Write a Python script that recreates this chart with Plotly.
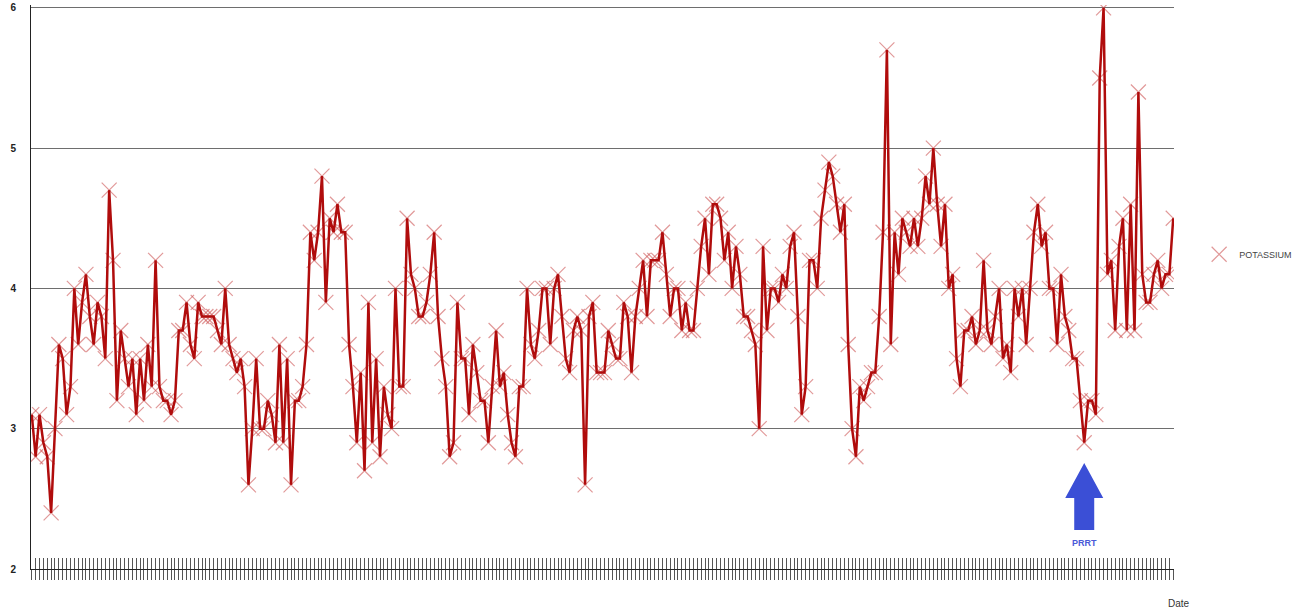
import plotly.graph_objects as go

# Potassium readings (mmol/L), in sampling order
potassium_1 = [3.1, 2.8, 3.1, 2.9, 2.8, 2.4, 3.0, 3.6, 3.5, 3.1, 3.3, 4.0, 3.6, 3.9, 4.1, 3.8, 3.6,
               3.9, 3.8, 3.5, 4.7, 4.2, 3.2, 3.7, 3.5, 3.3, 3.5, 3.1, 3.5, 3.2, 3.6, 3.3, 4.2]
potassium_2 = [3.3, 3.2, 3.2, 3.1, 3.2, 3.7, 3.7, 3.9, 3.6, 3.5, 3.9, 3.8, 3.8, 3.8, 3.8, 3.7, 3.6,
               4.0, 3.6, 3.5, 3.4, 3.5, 3.3, 2.6, 3.0, 3.5, 3.0, 3.0, 3.2, 3.1, 2.9, 3.6, 2.9, 3.5]
potassium_3 = [2.6, 3.2, 3.2, 3.3, 3.6, 4.4, 4.2, 4.4, 4.8, 3.9, 4.5, 4.4, 4.6, 4.4, 4.4, 3.6, 3.3,
               2.9, 3.4, 2.7, 3.9, 2.9, 3.5, 2.8, 3.3, 3.1, 3.0, 4.0, 3.3, 3.3, 4.5]
potassium_4 = [4.1, 4.0, 3.8, 3.8, 3.9, 4.1, 4.4, 3.8, 3.5, 3.3, 2.8, 2.9, 3.9, 3.5, 3.5, 3.1, 3.6,
               3.4, 3.2, 3.2, 2.9, 3.3, 3.7, 3.3, 3.4, 3.1, 2.9, 2.8, 3.3, 3.3, 4.0]
potassium_5 = [3.6, 3.5, 3.7, 4.0, 4.0, 3.6, 4.0, 4.1, 3.8, 3.5, 3.4, 3.7, 3.8, 3.7, 2.6, 3.8, 3.9,
               3.4, 3.4, 3.4, 3.7, 3.6, 3.5, 3.5, 3.9, 3.8, 3.4, 3.8, 4.0, 4.2, 3.8, 4.2]
potassium_6 = [4.2, 4.2, 4.4, 4.1, 3.8, 4.0, 4.0, 3.7, 3.9, 3.7, 3.7, 4.0, 4.3, 4.5, 4.1, 4.6, 4.6,
               4.5, 4.2, 4.4, 4.0, 4.3, 4.1, 3.8, 3.8, 3.7, 3.6, 3.0, 4.3, 3.7, 4.0]
potassium_7 = [4.0, 3.9, 4.1, 4.0, 4.3, 4.4, 3.8, 3.1, 3.3, 4.2, 4.2, 4.0, 4.5, 4.7, 4.9, 4.8, 4.6,
               4.4, 4.6, 3.6, 3.0, 2.8, 3.3, 3.2, 3.3, 3.4, 3.4, 3.8, 4.4, 5.7, 3.6, 4.4]
potassium_8 = [4.1, 4.5, 4.4, 4.3, 4.5, 4.3, 4.5, 4.8, 4.6, 5.0, 4.6, 4.3, 4.6, 4.0, 4.1, 3.5, 3.3,
               3.7, 3.7, 3.8, 3.6, 3.7, 4.2, 3.7, 3.6, 3.8, 4.0, 3.5, 3.6, 3.4, 4.0, 3.8, 4.0]
potassium_9 = [3.6, 4.0, 4.4, 4.6, 4.3, 4.4, 4.0, 4.0, 3.6, 4.1, 3.8, 3.7, 3.5, 3.5, 3.2, 2.9, 3.2,
               3.2, 3.1, 5.5, 6.0, 4.1, 4.2, 3.7, 4.3, 4.5, 3.7, 4.6, 3.7, 5.4, 4.1, 3.9, 3.9, 4.1,
               4.2, 4.0, 4.1, 4.1, 4.5]

potassium = (potassium_1 + potassium_2 + potassium_3 + potassium_4 + potassium_5 +
             potassium_6 + potassium_7 + potassium_8 + potassium_9)
sample_index = list(range(len(potassium)))
prrt_index = 272          # sample at which PRRT was given
y_ticks = [2, 3, 4, 5, 6]
series_name = "POTASSIUM"

n = len(potassium)
xr = [-0.2, n - 1 + 0.2]
yr = [2, 6.02]

fig = go.Figure()
# markers (drawn underneath)
fig.add_trace(go.Scatter(
    x=sample_index, y=potassium, mode="markers", name=series_name,
    marker=dict(symbol="x-thin", size=15, color="rgba(205,85,85,0.6)",
                line=dict(width=1.2, color="rgba(205,85,85,0.6)")),
    hoverinfo="skip"))
# line on top
fig.add_trace(go.Scatter(
    x=sample_index, y=potassium, mode="lines", showlegend=False,
    line=dict(color="#B00C0C", width=2.5)))
# invisible trace to host overlaid axis (inside ticks)
fig.add_trace(go.Scatter(x=[sample_index[0]], y=[2], xaxis="x2", mode="markers",
                         marker=dict(opacity=0), showlegend=False, hoverinfo="skip"))

# PRRT arrow
fig.add_shape(type="path", xref="x", yref="y", xsizemode="pixel", ysizemode="pixel",
              xanchor=prrt_index, yanchor=2,
              path="M -10,39 L -10,71 L -19,71 L 0,106 L 19,71 L 10,71 L 10,39 Z",
              fillcolor="#3B4FD6", line=dict(width=0))
fig.add_annotation(x=prrt_index, y=2.185, text="<b>PRRT</b>", showarrow=False,
                   font=dict(family="Liberation Sans", size=9, color="#4A5AD8"))
fig.add_annotation(x=0.993, y=-0.075, xref="paper", yref="paper", text="Date",
                   showarrow=False, xanchor="left",
                   font=dict(family="Liberation Sans", size=10, color="#333333"))

fig.update_layout(
    width=1299, height=609,
    margin=dict(l=31, r=125, t=5, b=40, autoexpand=False),
    paper_bgcolor="white", plot_bgcolor="white",
    font=dict(family="Liberation Sans"),
    legend=dict(x=1.022, y=0.558, xanchor="left", yanchor="middle",
                font=dict(size=9, color="#444444"), bgcolor="rgba(0,0,0,0)",
                itemwidth=30),
    xaxis=dict(range=xr, tick0=0, dtick=1, tickmode="linear", showticklabels=False,
               ticks="outside", ticklen=10, tickcolor="#555555", tickwidth=1,
               showgrid=False, zeroline=False, showline=True, linecolor="#222222",
               linewidth=1, automargin=False),
    xaxis2=dict(range=xr, overlaying="x", anchor="y", side="bottom", tick0=0, dtick=1,
                tickmode="linear", showticklabels=False, ticks="inside", ticklen=11,
                tickcolor="#555555", tickwidth=1, showgrid=False, zeroline=False,
                showline=False, automargin=False),
    yaxis=dict(range=yr, tickvals=y_ticks, showgrid=True, gridcolor="#6E6E6E",
               gridwidth=1, zeroline=False, showline=True, linecolor="#222222",
               linewidth=1, ticks="", ticklabelstandoff=12, automargin=False,
               tickfont=dict(family="Liberation Sans", size=10, color="#222222",
                             weight="bold")),
)

# remove the default 8px page margin so the figure sits at the window origin
fig.write_html("out.html", config={"displayModeBar": False},
               post_script="document.body.style.margin='0px';")
